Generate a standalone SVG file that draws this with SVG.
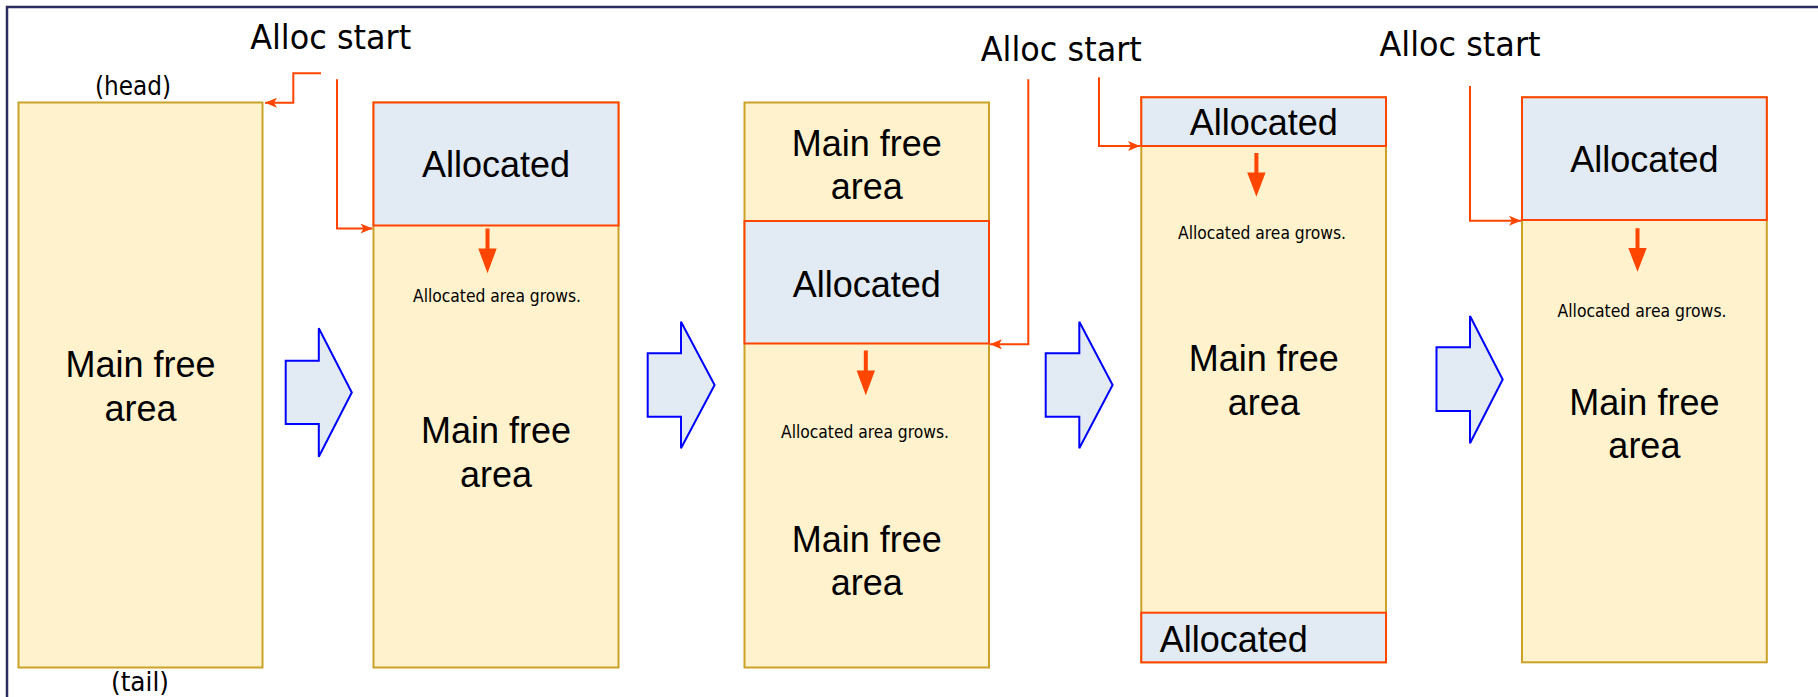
<svg xmlns="http://www.w3.org/2000/svg" width="1818" height="697" viewBox="0 0 1818 697">
<defs>
<style>
.col{fill:#fff2cc;stroke:#c9a227;stroke-width:2}
.alloc{fill:#e2eaf3;stroke:#ff4500;stroke-width:2}
.blk{fill:#e2eaf3;stroke:#0000ff;stroke-width:2;stroke-linejoin:miter}
.conn{fill:none;stroke:#ff4500;stroke-width:2}
.big{font-family:"Liberation Sans",Arial,sans-serif;font-size:36px;fill:#000;text-anchor:middle}
.lbl{font-family:"DejaVu Sans Condensed","DejaVu Sans",sans-serif;font-stretch:condensed;fill:#000;text-anchor:middle}
.start{font-size:34px}
.ht{font-size:26px}
.grow{font-size:17px}
.down{fill:#ff4500}
</style>
<marker id="ah" viewBox="0 0 12 10" refX="12" refY="5" markerWidth="12" markerHeight="10" markerUnits="userSpaceOnUse" orient="auto">
<path d="M0,0 L12,5 L0,10 L3,5 Z" fill="#ff4500"/>
</marker>
</defs>

<path d="M7,697 V7 H1818" fill="none" stroke="#2a2d5e" stroke-width="2.5"/>

<g id="col1">
<rect class="col" x="18.5" y="102.5" width="244" height="565"/>
<text class="big" x="140.5" y="376.7">Main free</text>
<text class="big" x="140.5" y="421">area</text>
<text class="lbl ht" x="133" y="95" textLength="76" lengthAdjust="spacingAndGlyphs">(head)</text>
<text class="lbl ht" x="140" y="691" textLength="58" lengthAdjust="spacingAndGlyphs">(tail)</text>
</g>

<g id="col2">
<rect class="col" x="373.5" y="102.5" width="245" height="565"/>
<rect class="alloc" x="373.5" y="102.5" width="245" height="123"/>
<text class="big" x="496" y="177.3">Allocated</text>
<text class="lbl grow" x="497" y="301.7" textLength="168" lengthAdjust="spacingAndGlyphs">Allocated area grows.</text>
<text class="big" x="496" y="442.7">Main free</text>
<text class="big" x="496" y="486.7">area</text>
<path class="down" d="M485.5,228.5 H489.5 V248.5 H496.7 L487.5,273.3 L478.3,248.5 H485.5 Z"/>
</g>

<g id="col3">
<rect class="col" x="744.5" y="102.5" width="244.5" height="565"/>
<rect class="alloc" x="744.5" y="221" width="244.5" height="122.5"/>
<text class="big" x="866.8" y="156">Main free</text>
<text class="big" x="866.8" y="199.3">area</text>
<text class="big" x="866.8" y="296.7">Allocated</text>
<text class="lbl grow" x="865" y="438.3" textLength="168" lengthAdjust="spacingAndGlyphs">Allocated area grows.</text>
<text class="big" x="866.8" y="551.7">Main free</text>
<text class="big" x="866.8" y="595">area</text>
<path class="down" d="M863.8,350.5 H867.8 V370.5 H875 L865.8,395.3 L856.6,370.5 H863.8 Z"/>
</g>

<g id="col4">
<rect class="col" x="1141.3" y="97.3" width="244.7" height="565"/>
<rect class="alloc" x="1141.3" y="97.3" width="244.7" height="48.7"/>
<rect class="alloc" x="1141.3" y="612.7" width="244.7" height="49.6"/>
<text class="big" x="1263.7" y="135">Allocated</text>
<text class="lbl grow" x="1262" y="239.3" textLength="168" lengthAdjust="spacingAndGlyphs">Allocated area grows.</text>
<text class="big" x="1263.7" y="370.7">Main free</text>
<text class="big" x="1263.7" y="415">area</text>
<text class="big" x="1159.7" y="651.7" style="text-anchor:start">Allocated</text>
<path class="down" d="M1254.4,153 H1258.4 V172.5 H1265.6 L1256.4,196.8 L1247.2,172.5 H1254.4 Z"/>
</g>

<g id="col5">
<rect class="col" x="1522" y="97.3" width="244.8" height="565"/>
<rect class="alloc" x="1522" y="97.3" width="244.8" height="122.7"/>
<text class="big" x="1644.4" y="171.7">Allocated</text>
<text class="lbl grow" x="1642" y="316.7" textLength="169" lengthAdjust="spacingAndGlyphs">Allocated area grows.</text>
<text class="big" x="1644.4" y="415">Main free</text>
<text class="big" x="1644.4" y="458.3">area</text>
<path class="down" d="M1635.5,228.3 H1639.5 V248 H1646.7 L1637.5,271.8 L1628.3,248 H1635.5 Z"/>
</g>

<g id="labels">
<text class="lbl start" x="330.7" y="49.3" textLength="161" lengthAdjust="spacingAndGlyphs">Alloc start</text>
<text class="lbl start" x="1061.3" y="61" textLength="161" lengthAdjust="spacingAndGlyphs">Alloc start</text>
<text class="lbl start" x="1460" y="56" textLength="161" lengthAdjust="spacingAndGlyphs">Alloc start</text>
</g>

<g id="steps">
<path class="blk" d="M285.7,360.7 H318.8 V328.3 L351.8,392.5 L318.8,456.7 V424 H285.7 Z"/>
<path class="blk" d="M647.7,353.3 H681 V321.7 L714.6,385 L681,448.3 V416.7 H647.7 Z"/>
<path class="blk" d="M1045.7,353.3 H1079.3 V321.7 L1112.6,385 L1079.3,448.3 V416.7 H1045.7 Z"/>
<path class="blk" d="M1436.5,347.3 H1470 V316 L1502.7,379.5 L1470,443.3 V411 H1436.5 Z"/>
</g>

<g id="connectors">
<path class="conn" d="M321,73.3 H293.3 V102.7 H265" marker-end="url(#ah)"/>
<path class="conn" d="M337,79.3 V228.5 H372.5" marker-end="url(#ah)"/>
<path class="conn" d="M1028.3,79.3 V344.3 H990" marker-end="url(#ah)"/>
<path class="conn" d="M1099,77.3 V146 H1140" marker-end="url(#ah)"/>
<path class="conn" d="M1470,86 V220.7 H1521" marker-end="url(#ah)"/>
</g>
</svg>
